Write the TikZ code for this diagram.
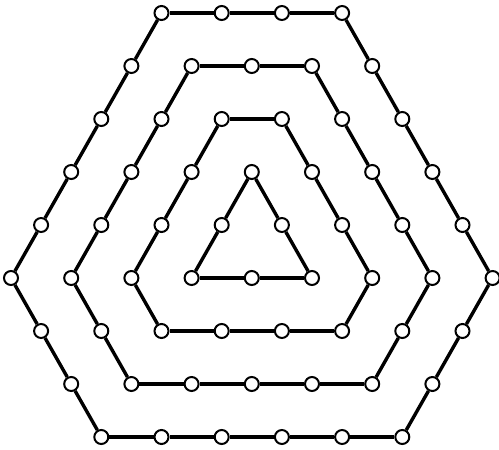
\documentclass[tikz,border=0pt]{standalone}
\usepackage{tikz}

\begin{document}
\begin{tikzpicture}[
  x=30.1pt, y=-53pt,
  dot/.style={draw,circle,fill=white,inner sep=0pt,minimum size=14pt,line width=2pt},
  ring/.style={line width=3.4pt}
]
\useasboundingbox (-11pt,13pt) rectangle (488pt,-437pt);
% outer ring
\foreach \k/\r [count=\i] in {5/0,7/0,9/0,11/0,12/1,13/2,14/3,15/4,16/5,15/6,14/7,13/8,
  11/8,9/8,7/8,5/8,3/8,2/7,1/6,0/5,1/4,2/3,3/2,4/1}
  \node[dot] (a\i) at (\k,\r) {};
% second ring
\foreach \k/\r [count=\i] in {6/1,8/1,10/1,11/2,12/3,13/4,14/5,13/6,12/7,
  10/7,8/7,6/7,4/7,3/6,2/5,3/4,4/3,5/2}
  \node[dot] (b\i) at (\k,\r) {};
% third ring
\foreach \k/\r [count=\i] in {7/2,9/2,10/3,11/4,12/5,11/6,9/6,7/6,5/6,4/5,5/4,6/3}
  \node[dot] (c\i) at (\k,\r) {};
% triangle
\foreach \k/\r [count=\i] in {8/3,9/4,10/5,8/5,6/5,7/4}
  \node[dot] (d\i) at (\k,\r) {};

\foreach \i [remember=\i as \j (initially 24)] in {1,...,24}
  \draw[ring] (a\j) -- (a\i);
\foreach \i [remember=\i as \j (initially 18)] in {1,...,18}
  \draw[ring] (b\j) -- (b\i);
\foreach \i [remember=\i as \j (initially 12)] in {1,...,12}
  \draw[ring] (c\j) -- (c\i);
\foreach \i [remember=\i as \j (initially 6)] in {1,...,6}
  \draw[ring] (d\j) -- (d\i);
\end{tikzpicture}
\end{document}
